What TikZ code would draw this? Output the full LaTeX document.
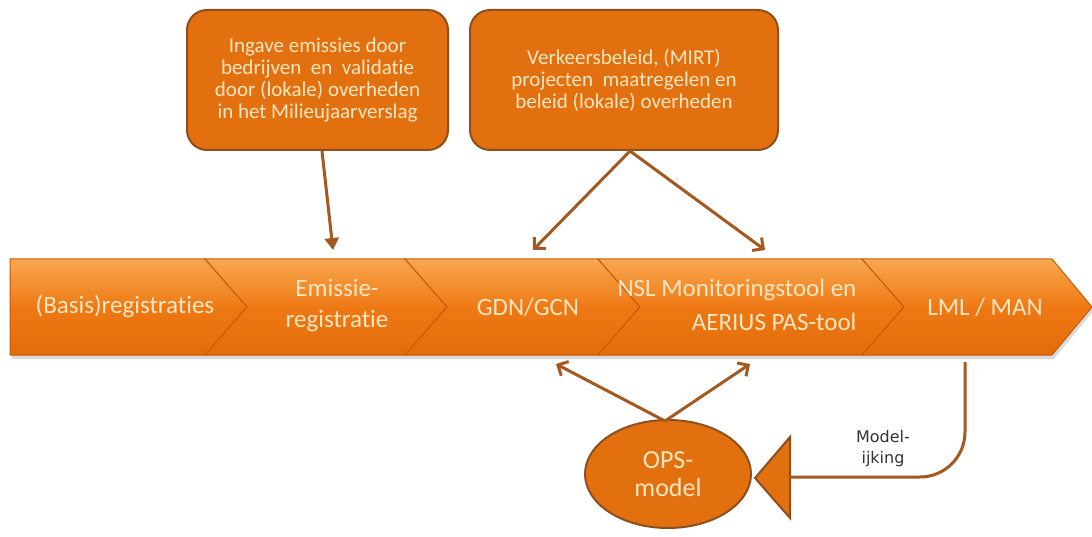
\documentclass[tikz,border=0pt]{standalone}
\usepackage{fontspec}
\setmainfont{Carlito}[Ligatures=NoCommon]
\newfontfamily\verd{DejaVu Sans}
\usetikzlibrary{arrows.meta,shapes.geometric}
\definecolor{bandor}{HTML}{EE7914}
\definecolor{bandlt}{HTML}{F8A850}
\definecolor{banddk}{HTML}{E26C0A}
\definecolor{sepcol}{HTML}{C95A08}
\definecolor{boxor}{HTML}{E3700F}
\definecolor{boxbd}{HTML}{8E4F1F}
\definecolor{arrcol}{HTML}{A3591F}
\definecolor{txtlt}{HTML}{FDE6C2}
\definecolor{lbl}{HTML}{333333}
\tikzset{
  seg/.style={top color=bandlt, bottom color=banddk, middle color=bandor, draw=sepcol, line width=1pt},
  segtext/.style={text=txtlt, font=\fontsize{25}{31}\selectfont, align=center, inner sep=0pt},
  topbox/.style={draw=boxbd, line width=2pt, fill=boxor, rounded corners=20pt, text=txtlt,
     font=\fontsize{21}{22}\selectfont, align=center},
  conn/.style={draw=arrcol, line width=3pt, -{Straight Barb[length=8pt,width=16pt]}},
  connb/.style={draw=arrcol, line width=3pt, -{Triangle[length=12pt,width=14pt]}},
}
\begin{document}
\begin{tikzpicture}[x=1pt,y=-1pt]
\useasboundingbox (0,0) rectangle (1092,537);
\fill[white] (0,0) rectangle (1092,537);
% shadow under band
\fill[black!15] (12,262) -- (1054,262) -- (1094,310) -- (1054,359) -- (12,359) -- cycle;
% band segments
\path[seg] (10,259) -- (205,259) -- (247,307) -- (205,355) -- (10,355) -- cycle;
\path[seg] (205,259) -- (405,259) -- (447,307) -- (405,355) -- (205,355) -- (247,307) -- cycle;
\path[seg] (405,259) -- (598,259) -- (640,307) -- (598,355) -- (405,355) -- (447,307) -- cycle;
\path[seg] (598,259) -- (862,259) -- (904,307) -- (862,355) -- (598,355) -- (640,307) -- cycle;
\path[seg] (862,259) -- (1052,259) -- (1092,307) -- (1052,355) -- (862,355) -- (904,307) -- cycle;
% band texts
\node[segtext] (s1) at (125,307) {(Basis)registraties};
\node[segtext] (s2) at (337,306) {Emissie-\\registratie};
\node[segtext] (s3) at (528,307) {GDN/GCN};
\node[segtext, align=right, font=\fontsize{25}{34}\selectfont] (s4) at (737,305) {NSL Monitoringstool en\\AERIUS PAS-tool};
\node[segtext] (s5) at (985,307) {LML / MAN};
% top boxes
\node[topbox, minimum width=261pt, minimum height=140pt] (b1) at (317.5,80) {Ingave emissies door\\bedrijven\ \ en\ \ validatie\\door (lokale) overheden\\in het Milieujaarverslag};
\node[topbox, minimum width=308pt, minimum height=140pt] (b2) at (624,80) {Verkeersbeleid, (MIRT)\\projecten\ \ maatregelen en\\beleid (lokale) overheden};
% arrow targets
\coordinate (t1) at (333,250);
\coordinate (t2) at (533,250);
\coordinate (t3) at (765,250);
\coordinate (b1s) at (322,151);
\coordinate (b2s) at (630,151);
\draw[connb] (b1s) -- (t1);
\draw[conn] (b2s) -- (t2);
\draw[conn] (b2s) -- (t3);
% OPS model
\node[ellipse, draw=boxbd, line width=2pt, fill=boxor, minimum width=166pt, minimum height=108pt,
      text=txtlt, font=\fontsize{26}{28}\selectfont, align=center, inner sep=0pt] (ops) at (668,474) {OPS-\\model};
\draw[boxbd, line width=2pt, fill=boxor] (755,478) -- (790,437) -- (790,518) -- cycle;
\coordinate (tri) at (790,477);
\coordinate (lmlb) at (965,362);
\draw[arrcol, line width=3pt, rounded corners=45pt] (lmlb) |- (tri);
\node[text=lbl, font=\verd\fontsize{16}{21}\selectfont, align=center] (ijk) at (883,449) {Model-\\ijking};
% arrows from OPS
\coordinate (o1) at (556,364);
\coordinate (o2) at (750,364);
\coordinate (opst) at (665,421);
\draw[conn] (opst) -- (o1);
\draw[conn] (opst) -- (o2);
\end{tikzpicture}
\end{document}
